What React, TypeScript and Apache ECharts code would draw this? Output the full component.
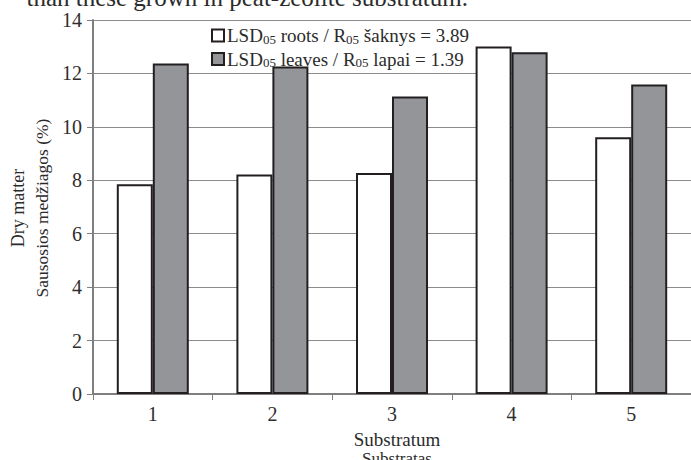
import React, { useEffect, useRef } from "react";
import * as echarts from "echarts";

const categories = ["1", "2", "3", "4", "5"];
const roots = [7.85, 8.22, 8.27, 13.01, 9.61];
const leaves = [12.37, 12.26, 11.14, 12.79, 11.59];
const yTicks = { min: 0, max: 14, interval: 2 };

const FONT = "Liberation Serif";
const BORDER = "#231f20";
const GRAY = "#939598";
const AXIS = "#7f7f7f";

export default function App() {
  const ref = useRef<HTMLDivElement>(null);
  useEffect(() => {
    const chart = echarts.init(ref.current!, null, { renderer: "svg" });
    const rich = {
      a: { fontFamily: FONT, fontSize: 19, color: "#2b2b2b" },
      s: { fontFamily: FONT, fontSize: 13, color: "#2b2b2b", padding: [7, 0, 0, 0] },
    };
    chart.setOption({
      animation: false,
      backgroundColor: "#ffffff",
      textStyle: { fontFamily: FONT },
      grid: { left: 93, right: -8, top: 20, bottom: 66, containLabel: false },
      legend: {
        orient: "vertical",
        left: 206,
        top: 21,
        itemGap: 4,
        itemWidth: 12,
        itemHeight: 12,
        icon: "rect",
        selectedMode: false,
        textStyle: { fontFamily: FONT, fontSize: 19, rich, padding: [0, 0, 0, -2] },
        formatter: (name: string) =>
          name === "roots"
            ? "{a|LSD}{s|05}{a| roots / R}{s|05}{a| šaknys = 3.89}"
            : "{a|LSD}{s|05}{a| leaves / R}{s|05}{a| lapai = 1.39}",
        data: ["roots", "leaves"],
      },
      xAxis: {
        type: "category",
        data: categories,
        axisLine: { show: true, lineStyle: { color: AXIS, width: 2 } },
        axisTick: { show: true, alignWithLabel: false, length: 6, lineStyle: { color: AXIS, width: 1 } },
        axisLabel: { fontFamily: FONT, fontSize: 20, color: "#2e2e2e", margin: 10 },
      },
      yAxis: {
        type: "value",
        min: yTicks.min,
        max: yTicks.max,
        interval: yTicks.interval,
        axisLine: { show: true, lineStyle: { color: AXIS, width: 2 } },
        axisTick: { show: true, length: 6, lineStyle: { color: AXIS, width: 1 } },
        axisLabel: { fontFamily: FONT, fontSize: 20, color: "#2e2e2e", margin: 11 },
        splitLine: { show: true, lineStyle: { color: "#8c8c8c", width: 1 } },
      },
      series: [
        {
          name: "roots",
          type: "bar",
          data: roots,
          barWidth: 36,
          barGap: "0%",
          itemStyle: { color: "#ffffff", borderColor: BORDER, borderWidth: 2 },
        },
        {
          name: "leaves",
          type: "bar",
          data: leaves,
          barWidth: 36,
          itemStyle: { color: GRAY, borderColor: BORDER, borderWidth: 2 },
        },
      ],
      graphic: [
        {
          type: "text",
          x: 468,
          y: 10,
          style: {
            text: "than these grown in peat-zeolite substratum.",
            textAlign: "right",
            textVerticalAlign: "bottom",
            font: `25px ${FONT}`,
            fill: "#2b2b2b",
          },
        },
        {
          type: "text",
          x: 18,
          y: 208,
          rotation: Math.PI / 2,
          style: {
            text: "Dry matter",
            textAlign: "center",
            textVerticalAlign: "middle",
            font: `18px ${FONT}`,
            fill: "#2b2b2b",
          },
        },
        {
          type: "text",
          x: 42,
          y: 208,
          rotation: Math.PI / 2,
          style: {
            text: "Sausosios medžiagos (%)",
            textAlign: "center",
            textVerticalAlign: "middle",
            font: `17.5px ${FONT}`,
            fill: "#2b2b2b",
          },
        },
        {
          type: "text",
          x: 397,
          y: 439,
          style: {
            text: "Substratum",
            textAlign: "center",
            textVerticalAlign: "middle",
            font: `19px ${FONT}`,
            fill: "#2b2b2b",
          },
        },
        {
          type: "text",
          x: 397,
          y: 458,
          style: {
            text: "Substratas",
            textAlign: "center",
            textVerticalAlign: "middle",
            font: `17px ${FONT}`,
            fill: "#2b2b2b",
          },
        },
      ],
    });
    return () => chart.dispose();
  }, []);
  return (
    <div
      ref={ref}
      style={{ width: 691, height: 460, position: "absolute", left: 0, top: 0 }}
    />
  );
}
